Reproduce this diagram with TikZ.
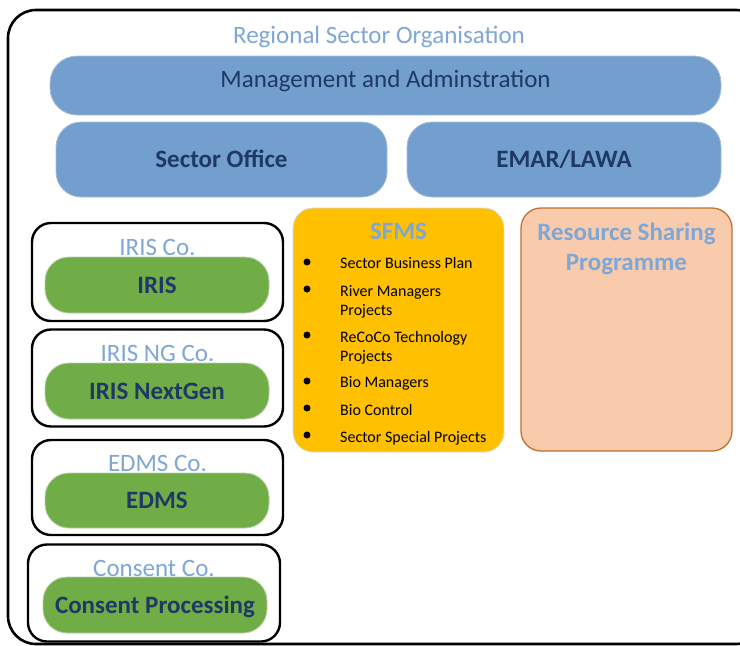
\documentclass[tikz,border=0pt]{standalone}
\usepackage{fontspec}
\setmainfont{Carlito}
\definecolor{ttl}{HTML}{7EA6D6}
\definecolor{mblue}{HTML}{739FCE}
\definecolor{mline}{HTML}{A8BFDC}
\definecolor{dblue}{HTML}{1F3864}
\definecolor{grn}{HTML}{70AD47}
\definecolor{gline}{HTML}{B5CFA4}
\definecolor{gold}{HTML}{FFC000}
\definecolor{peach}{HTML}{F8CBAD}
\definecolor{rust}{HTML}{C0702F}
\tikzset{
  big/.style={font=\fontsize{25}{30}\selectfont},
  bigbf/.style={font=\fontsize{25}{30}\selectfont\bfseries},
  bluebox/.style={draw=mline, line width=0.8pt, fill=mblue, rounded corners=25pt, inner sep=0pt, text=dblue, big},
  cobox/.style={draw=black, line width=2.4pt, rounded corners=19pt, inner sep=0pt},
  colabel/.style={anchor=base, text=ttl, big, inner sep=0pt},
  greenbox/.style={draw=gline, line width=0.8pt, fill=grn, rounded corners=24pt, inner sep=0pt, text=dblue, bigbf, text height=16pt, text depth=0pt},
  item/.style={anchor=base west, inner sep=0pt, align=left, font=\fontsize{16}{19}\selectfont},
  bul/.style={circle, fill=black, inner sep=0pt, minimum size=7pt},
}
\begin{document}
\begin{tikzpicture}[x=1pt, y=-1pt]
\clip (0,0) rectangle (740,646);
% outer frame
\draw[line width=2.6pt, rounded corners=28pt] (8,10) rectangle (764,644);
\node[anchor=base, text=ttl, big, inner sep=0pt] (title) at (379,43) {Regional Sector Organisation};
% top blue boxes
\node[bluebox, minimum width=671pt, minimum height=59pt, rounded corners=27pt, text height=18pt, text depth=15pt] (mgmt) at (385.5,85.5) {Management and Adminstration};
\node[bluebox, bigbf, minimum width=331pt, minimum height=75pt, text height=16pt, text depth=0pt] (so) at (221.5,159.5) {Sector Office};
\node[bluebox, bigbf, minimum width=314pt, minimum height=75pt, text height=16pt, text depth=0pt] (emar) at (564,159.5) {EMAR/LAWA};
% company boxes
\node[cobox, minimum width=251pt, minimum height=98pt] (co1) at (157.5,272) {};
\node[cobox, minimum width=251pt, minimum height=97pt] (co2) at (157.5,378) {};
\node[cobox, minimum width=251pt, minimum height=95pt] (co3) at (157.5,487.5) {};
\node[cobox, minimum width=252pt, minimum height=97pt] (co4) at (154,593) {};
\node[colabel] (l1) at (157.5,255.5) {IRIS Co.};
\node[colabel] (l2) at (157.5,361.5) {IRIS NG Co.};
\node[colabel] (l3) at (157.5,471) {EDMS Co.};
\node[colabel] (l4) at (154,576) {Consent Co.};
\node[greenbox, minimum width=224pt, minimum height=56pt] (g1) at (157,285) {IRIS};
\node[greenbox, minimum width=224pt, minimum height=56pt] (g2) at (157,391) {IRIS NextGen};
\node[greenbox, minimum width=224pt, minimum height=55pt] (g3) at (157,500.5) {EDMS};
\node[greenbox, minimum width=224pt, minimum height=56pt] (g4) at (155,605) {Consent Processing};
% SFMS
\node[draw=black!15, line width=0.8pt, fill=gold, rounded corners=20pt, minimum width=211pt, minimum height=244pt, inner sep=0pt] (sfms) at (398.5,330) {};
\node[anchor=base, text=ttl, bigbf, inner sep=0pt] (sfmst) at (398.5,239) {SFMS};
\node[bul] (b1) at (307,262) {};
\node[bul] (b2) at (307,289) {};
\node[bul] (b3) at (307,335) {};
\node[bul] (b4) at (307,381) {};
\node[bul] (b5) at (307,408) {};
\node[bul] (b6) at (307,435) {};
\node[item] (i1) at (340,268) {Sector Business Plan};
\node[item] (i2) at (340,315) {River Managers\\Projects};
\node[item] (i3) at (340,361) {ReCoCo Technology\\Projects};
\node[item] (i4) at (340,387) {Bio Managers};
\node[item] (i5) at (340,415) {Bio Control};
\node[item] (i6) at (340,442) {Sector Special Projects};
% Resource sharing
\node[draw=rust, line width=1.3pt, fill=peach, rounded corners=20pt, minimum width=211pt, minimum height=243pt, inner sep=0pt] (rsp) at (626.5,329.5) {};
\node[anchor=base, align=center, text=ttl, inner sep=0pt, font=\fontsize{25}{29.5}\selectfont\bfseries] (rspt) at (626.5,270) {Resource Sharing\\Programme};
\end{tikzpicture}
\end{document}
